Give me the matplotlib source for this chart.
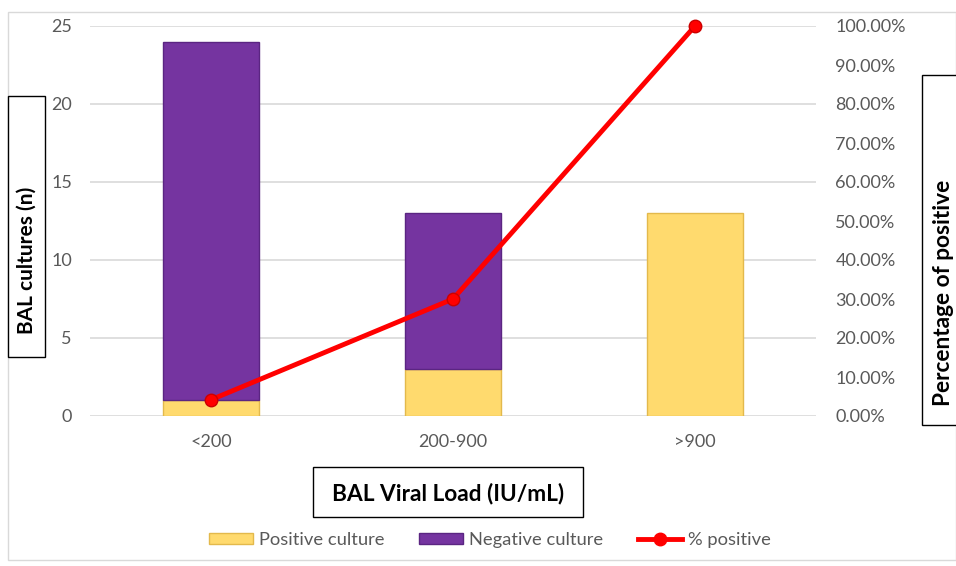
import matplotlib.pyplot as plt
import numpy as np
from matplotlib.patches import Rectangle, Patch
from matplotlib.lines import Line2D

plt.rcParams['font.family'] = ['Lato', 'DejaVu Sans']

# data
categories = ['<200', '200-900', '>900']
positive = [1, 3, 13]
negative = [23, 10, 0]
pct_positive = [4.17, 30.0, 100.0]

yellow = '#FFDA6E'
yellow_edge = '#E3B94C'
purple = '#7534A0'
purple_edge = '#5B2582'
red = '#FF0000'
tick_col = '#595959'

W, H = 956, 566
fig = plt.figure(figsize=(W / 100, H / 100), dpi=100)

def fx(px):
    return px / W

def fy(py):
    return 1 - py / H

# outer chart border
fig.add_artist(Rectangle((fx(8), fy(560)), fx(956) - fx(8), fy(12) - fy(560),
                         transform=fig.transFigure, fill=False, edgecolor='#d9d9d9', lw=1))

ax = fig.add_axes([fx(90), fy(416), fx(816) - fx(90), fy(26) - fy(416)])
x = np.arange(len(categories))
ax.bar(x, positive, width=0.4, color=yellow, edgecolor=yellow_edge, lw=1, zorder=2)
neg_lw = [1 if v > 0 else 0 for v in negative]
ax.bar(x, negative, width=0.4, bottom=positive, color=purple, edgecolor=purple_edge,
       lw=neg_lw, zorder=2)

ax.set_xlim(-0.5, 2.5)
ax.set_ylim(0, 25)
ax.set_yticks(range(0, 26, 5))
ax.yaxis.grid(True, color='#d9d9d9', lw=1.2)
ax.set_axisbelow(True)
for s in ax.spines.values():
    s.set_visible(False)
ax.tick_params(length=0, colors=tick_col, labelsize=13, pad=13)
ax.tick_params(axis='x', pad=13)
ax.set_xticks(x)
ax.set_xticklabels(categories)

ax2 = ax.twinx()
ax2.plot(x, pct_positive, color=red, lw=3.5, marker='o', markersize=9,
         markerfacecolor=red, markeredgecolor='#cc0000', zorder=5, clip_on=False)
ax2.set_ylim(0, 100)
ax2.set_yticks(range(0, 101, 10))
ax2.set_yticklabels(['%.2f%%' % v for v in range(0, 101, 10)])
for s in ax2.spines.values():
    s.set_visible(False)
ax2.tick_params(length=0, colors=tick_col, labelsize=13, pad=14)

# boxed axis titles
fig.add_artist(Rectangle((fx(8), fy(357)), fx(45) - fx(8), fy(96) - fy(357),
                         transform=fig.transFigure, fill=True, facecolor='white',
                         edgecolor='black', lw=1))
fig.text(fx(27), fy(260), 'BAL cultures (n)', rotation=90, ha='center', va='center',
         fontsize=15, fontweight='bold')

fig.add_artist(Rectangle((fx(922), fy(425)), fx(960) - fx(922), fy(75) - fy(425),
                         transform=fig.transFigure, fill=True, facecolor='white',
                         edgecolor='black', lw=1))
fig.text(fx(944), fy(293), 'Percentage of positive', rotation=90, ha='center', va='center',
         fontsize=16.3, fontweight='bold')

fig.add_artist(Rectangle((fx(313), fy(517)), fx(583) - fx(313), fy(467) - fy(517),
                         transform=fig.transFigure, fill=True, facecolor='white',
                         edgecolor='black', lw=1))
fig.text(fx(448), fy(493), 'BAL Viral Load (IU/mL)', ha='center', va='center',
         fontsize=16.3, fontweight='bold')

handles = [Patch(facecolor=yellow, edgecolor=yellow_edge),
           Patch(facecolor=purple, edgecolor=purple_edge),
           Line2D([0], [0], color=red, lw=3.5, marker='o', markersize=9)]
fig.legend(handles, ['Positive culture', 'Negative culture', '% positive'],
           loc='center', bbox_to_anchor=(fx(490), fy(540)), ncol=3, frameon=False,
           fontsize=13.2, labelcolor=tick_col, handlelength=2.4, handleheight=0.6,
           handletextpad=0.33, columnspacing=1.9)

fig.savefig('out.png', dpi=100)
